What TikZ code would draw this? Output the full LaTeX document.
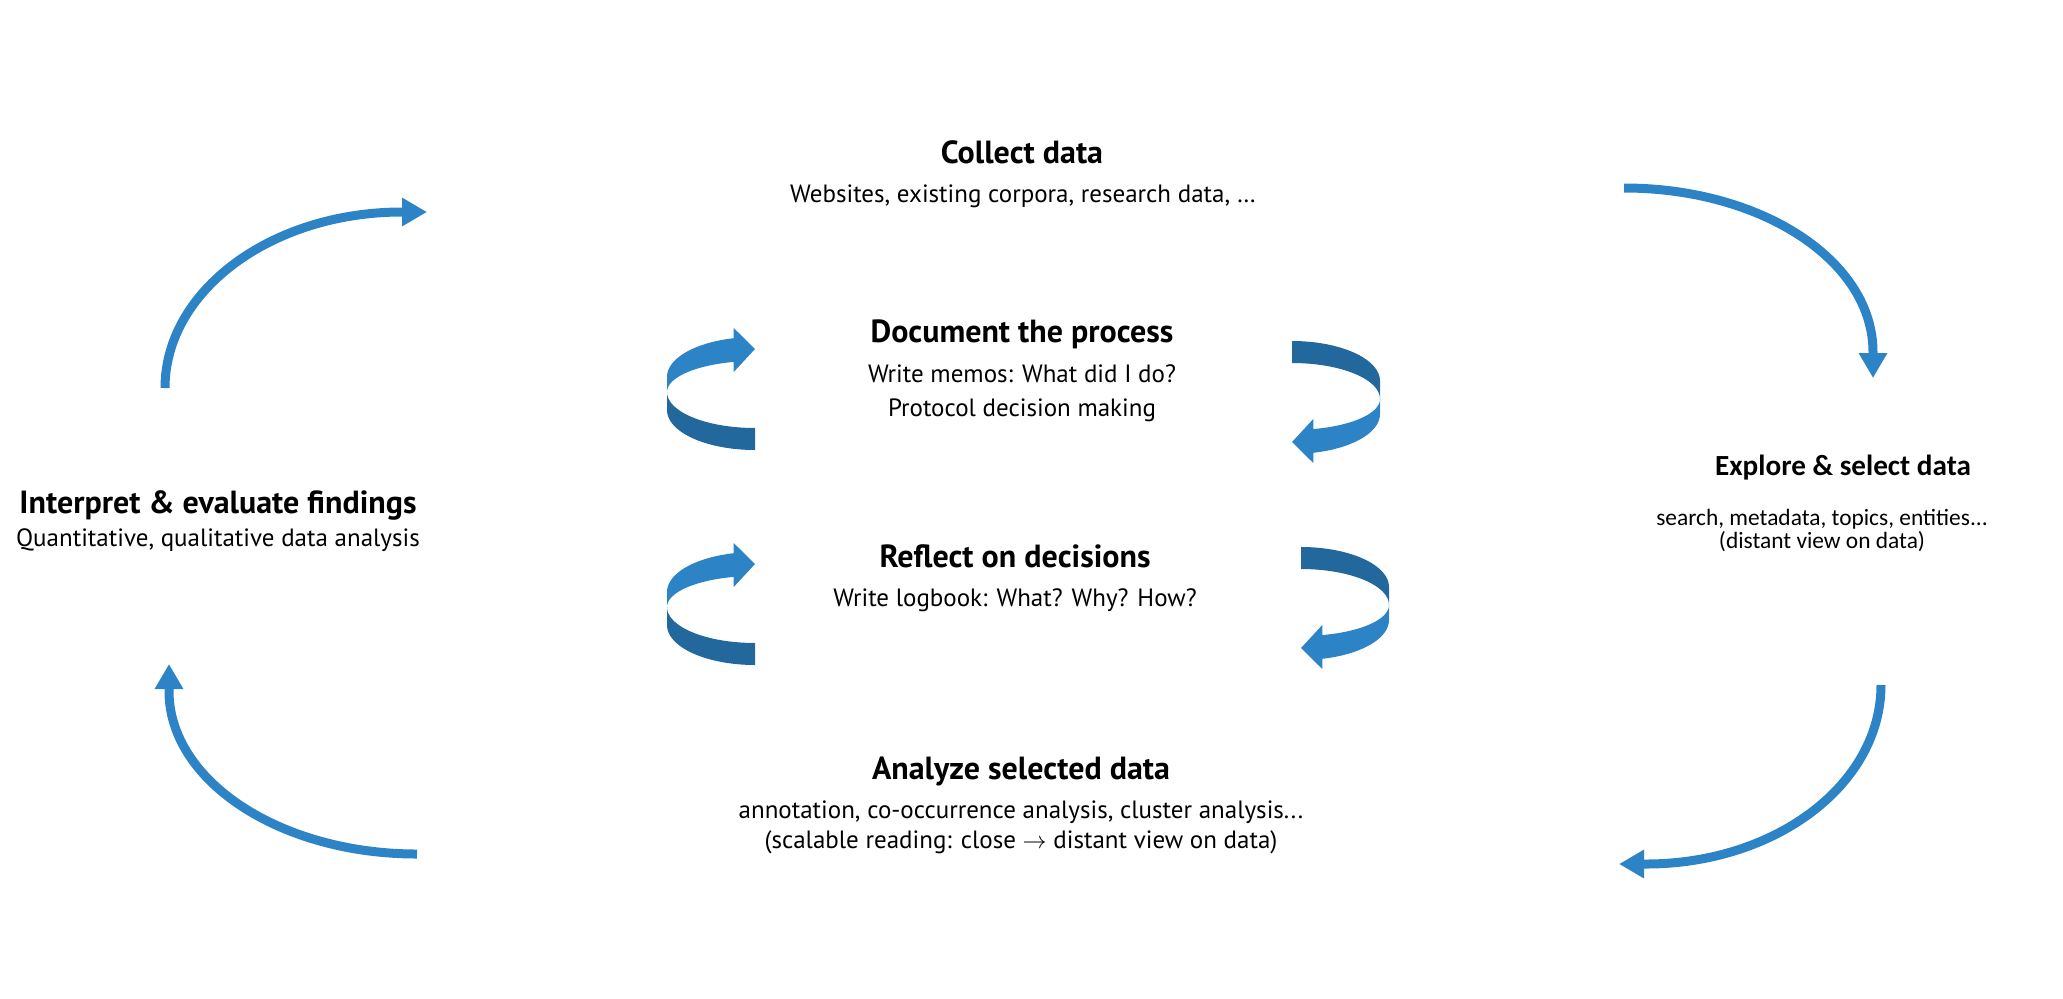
\documentclass[tikz,border=0pt]{standalone}
\usepackage{fontspec}
\setmainfont{PT Sans}
\newfontfamily\calfont{Carlito}
\usetikzlibrary{arrows.meta}
\definecolor{ribbonlight}{RGB}{44,132,198}
\definecolor{ribbondark}{RGB}{35,104,156}
\tikzset{
  head/.style={font=\fontsize{16}{19}\selectfont\bfseries, anchor=base, inner sep=0pt},
  sub/.style={font=\fontsize{12.5}{15}\selectfont, anchor=base, inner sep=0pt},
  exhead/.style={font=\calfont\fontsize{14.6}{17}\selectfont\bfseries, anchor=base, inner sep=0pt},
  exsub/.style={font=\calfont\fontsize{11.7}{14}\selectfont, anchor=base, inner sep=0pt},
  bigarrow/.style={draw=ribbonlight, line width=4.5pt, -{Triangle[length=12.5pt,width=13.5pt]}},
}
\newcommand{\ribbonshape}{%
  \fill[ribbonlight] plot[domain=180:256,samples=30,variable=\t] ({88*cos(\t)},{-51+40*sin(\t)})
    -- (-21.3,-100) -- (0,-79) -- (-21.3,-56)
    -- plot[domain=256:180,samples=30,variable=\t] ({88*cos(\t)},{-36+31*sin(\t)}) -- cycle;
  \fill[ribbondark] plot[domain=180:90,samples=30,variable=\t] ({88*cos(\t)},{-36+36*sin(\t)})
    -- (0,22)
    -- plot[domain=90:180,samples=30,variable=\t] ({88*cos(\t)},{-18+40*sin(\t)}) -- cycle;
}
\begin{document}
\begin{tikzpicture}[x=0.5pt,y=-0.5pt]
\useasboundingbox (0,0) rectangle (2063,998);

% texts
\node[head] (collect) at (1022,163) {Collect data};
\node[sub] (collectsub) at (1023,202) {Websites, existing corpora, research data, …};
\node[head] (doc) at (1022,342) {Document the process};
\node[sub] (docA) at (1022,382) {Write memos: What did I do?};
\node[sub] (docB) at (1022,416) {Protocol decision making};
\node[head] (refl) at (1015,567) {Reflect on decisions};
\node[sub] (reflA) at (1015,606) {Write logbook: What? Why? How?};
\node[head] (anal) at (1021,779) {Analyze selected data};
\node[sub] (analA) at (1021,818) {annotation, co-occurrence analysis, cluster analysis...};
\node[sub] (analB) at (1021,848) {(scalable reading: close $\rightarrow$ distant view on data)};
\node[head] (interp) at (218,513) {Interpret \& evaluate findings};
\node[sub] (interpA) at (218,546) {Quantitative, qualitative data analysis};
\node[exhead] (expl) at (1843,475) {Explore \& select data};
\node[exsub] (explA) at (1822,525) {search, metadata, topics, entities...};
\node[exsub] (explB) at (1822,548) {(distant view on data)};

% big cycle arrows
\coordinate (a1s) at (165,388);  \coordinate (a1b) at (402,212); \coordinate (a1t) at (427,212);
\coordinate (a2s) at (1624,188); \coordinate (a2b) at (1873,352); \coordinate (a2t) at (1873,378);
\coordinate (a3s) at (1881,685); \coordinate (a3b) at (1646,864); \coordinate (a3t) at (1619,864);
\coordinate (a4s) at (417,854);  \coordinate (a4b) at (169,691);  \coordinate (a4t) at (169,664);
\draw[bigarrow] (a1s) .. controls (165,291) and (271,212) .. (a1b) -- (a1t);
\draw[bigarrow] (a2s) .. controls (1762,188) and (1873,261) .. (a2b) -- (a2t);
\draw[bigarrow] (a3s) .. controls (1881,784) and (1776,864) .. (a3b) -- (a3t);
\draw[bigarrow] (a4s) .. controls (280,854) and (169,781) .. (a4b) -- (a4t);

% ribbon arrows
\begin{scope}[shift={(755,428)}] \ribbonshape \end{scope}
\begin{scope}[shift={(755,643)}] \ribbonshape \end{scope}
\begin{scope}[shift={(1292,363)},rotate=180] \ribbonshape \end{scope}
\begin{scope}[shift={(1301,569)},rotate=180] \ribbonshape \end{scope}
\end{tikzpicture}
\end{document}
